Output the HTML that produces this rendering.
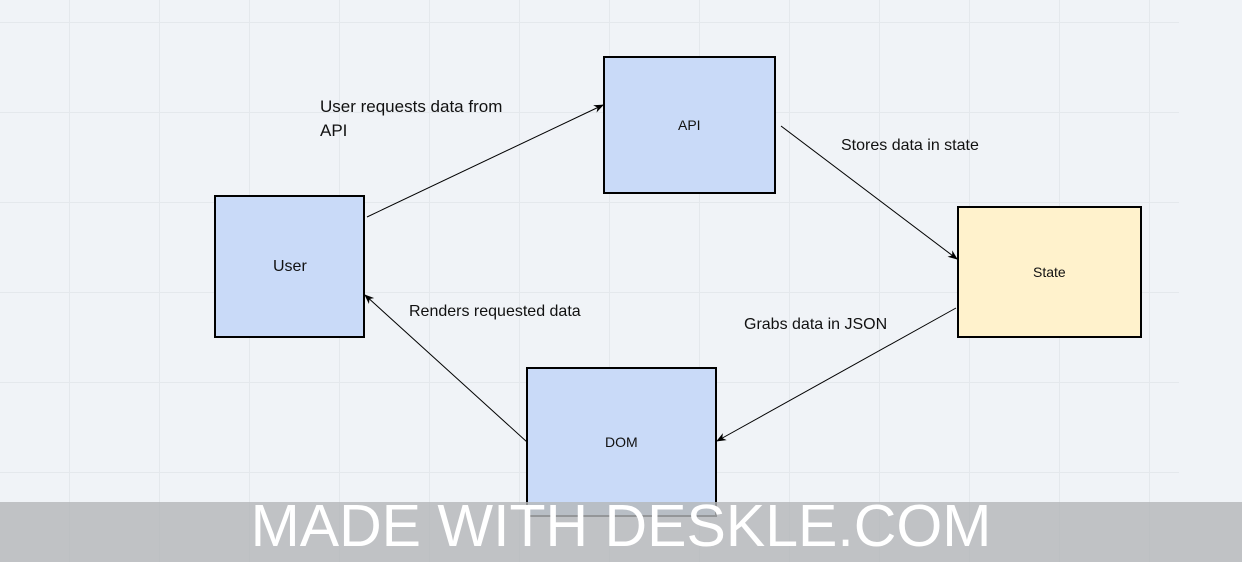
<!DOCTYPE html>
<html><head><style>
body{margin:0;width:1242px;height:562px;overflow:hidden;background:#f0f3f7;font-family:"Liberation Sans",sans-serif;position:relative}
svg{position:absolute;left:0;top:0}
.t{position:absolute;color:#111;white-space:nowrap}
.band{position:absolute;left:0;top:502px;width:1242px;height:60px;background:rgba(180,183,186,0.82);color:#fff;font-size:59px;text-align:center;line-height:48px;overflow:hidden}
</style></head><body>
<svg width="1242" height="562">
<defs><marker id="a" markerWidth="10" markerHeight="8" refX="9" refY="4" orient="auto" markerUnits="userSpaceOnUse"><path d="M0,0 L10,4 L0,8 L3,4 z" fill="#000"/></marker></defs>
<g stroke="#e4e8ec" stroke-width="1">
<line x1="0" y1="22.5" x2="1179" y2="22.5"/><line x1="0" y1="112.5" x2="1179" y2="112.5"/><line x1="0" y1="202.5" x2="1179" y2="202.5"/><line x1="0" y1="292.5" x2="1179" y2="292.5"/><line x1="0" y1="382.5" x2="1179" y2="382.5"/><line x1="0" y1="472.5" x2="1179" y2="472.5"/>
<line x1="69.5" y1="0" x2="69.5" y2="562"/><line x1="159.5" y1="0" x2="159.5" y2="562"/><line x1="249.5" y1="0" x2="249.5" y2="562"/><line x1="339.5" y1="0" x2="339.5" y2="562"/><line x1="429.5" y1="0" x2="429.5" y2="562"/><line x1="519.5" y1="0" x2="519.5" y2="562"/><line x1="609.5" y1="0" x2="609.5" y2="562"/><line x1="699.5" y1="0" x2="699.5" y2="562"/><line x1="789.5" y1="0" x2="789.5" y2="562"/><line x1="879.5" y1="0" x2="879.5" y2="562"/><line x1="969.5" y1="0" x2="969.5" y2="562"/><line x1="1059.5" y1="0" x2="1059.5" y2="562"/><line x1="1149.5" y1="0" x2="1149.5" y2="562"/>
</g>
<g stroke="#000" stroke-width="2">
<rect x="215" y="196" width="149" height="141" fill="#c9daf8"/>
<rect x="604" y="57" width="171" height="136" fill="#c9daf8"/>
<rect x="958" y="207" width="183" height="130" fill="#fff2cc"/>
<rect x="527" y="368" width="189" height="148" fill="#c9daf8"/>
</g>
<g stroke="#000" stroke-width="1" fill="none">
<line x1="367" y1="217" x2="603" y2="105" marker-end="url(#a)"/>
<line x1="781" y1="126" x2="957" y2="259" marker-end="url(#a)"/>
<line x1="956" y1="308" x2="717" y2="441" marker-end="url(#a)"/>
<line x1="527" y1="442" x2="365" y2="295" marker-end="url(#a)"/>
</g>
</svg>
<div class="t" style="left:273px;top:258px;font-size:16px">User</div>
<div class="t" style="left:678px;top:117px;font-size:14px">API</div>
<div class="t" style="left:1033px;top:264px;font-size:14px">State</div>
<div class="t" style="left:605px;top:434px;font-size:14px">DOM</div>
<div class="t" style="left:320px;top:95px;font-size:17px;line-height:24px">User requests data from<br>API</div>
<div class="t" style="left:841px;top:137px;font-size:16px">Stores data in state</div>
<div class="t" style="left:744px;top:316px;font-size:16px">Grabs data in JSON</div>
<div class="t" style="left:409px;top:303px;font-size:16px">Renders requested data</div>
<div class="band">MADE WITH DESKLE.COM</div>
</body></html>
